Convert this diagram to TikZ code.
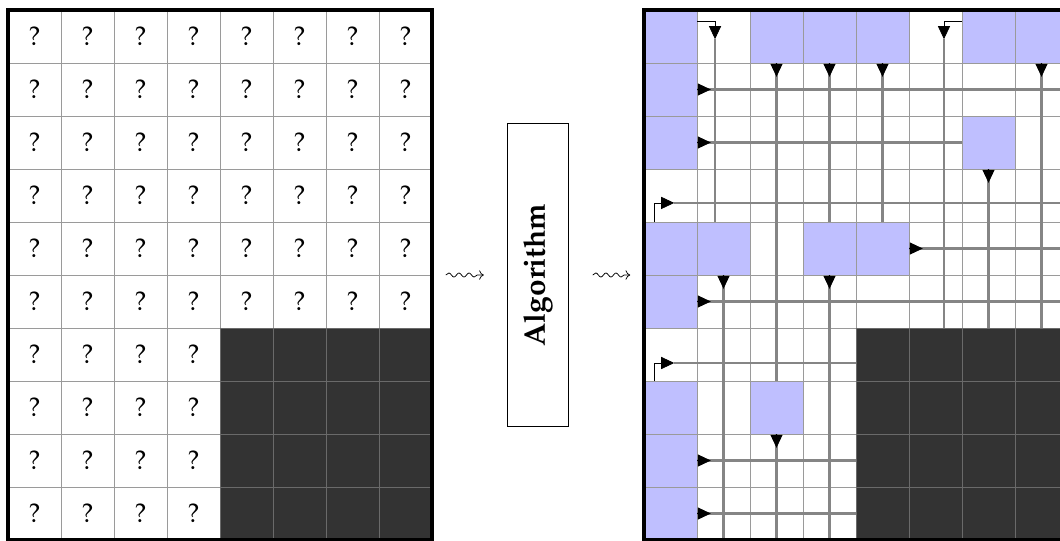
\documentclass[tikz,border=0pt]{standalone}
\usepackage{amsmath,amssymb}
\usepackage[T1]{fontenc}
\usepackage{mathpazo}
\usepackage{graphicx}
\usepackage{xcolor}
\usepackage{tikz}
\usetikzlibrary{arrows.meta,calc,positioning,decorations.pathmorphing}
\definecolor{knownblue}{RGB}{191,191,255}
\definecolor{maskgray}{HTML}{333333}
\definecolor{gridgray}{HTML}{9A9A9A}
\definecolor{maskline}{HTML}{6A6A6A}
\definecolor{flowgray}{HTML}{858585}
\tikzset{
  gridline/.style={gridgray,line width=0.5pt},
  maskgrid/.style={maskline,line width=0.5pt},
  known/.style={fill=knownblue},
  masked/.style={fill=maskgray},
  flow/.style={flowgray,line width=1.2pt},
  flowhead/.style={-{Triangle[length=7pt,width=6.5pt]},black,line width=0.4pt},
  bent/.style={-{Triangle[length=7pt,width=6.5pt]},black,line width=0.4pt},
  frame/.style={draw,line width=2pt,minimum width=8cm,minimum height=10cm,inner sep=0pt,outer sep=0pt},
  squig/.style={-{To[length=2.5pt,width=5pt]},line width=0.4pt,decorate,decoration={snake,amplitude=1.1pt,segment length=5.4pt,post length=3pt}},
  algbox/.style={draw,line width=0.4pt,minimum width=1.15cm,minimum height=5.72cm,inner sep=0pt,font=\bfseries\fontsize{16}{19}\selectfont},
  qmark/.style={font=\Large,inner sep=0pt}
}

\begin{document}
\begin{tikzpicture}
  \useasboundingbox (-0.151,-10) rectangle (19.849,0.189);
  % input grid
  \fill[masked] (4,-10) rectangle (8,-6);
  \draw[gridline] (0,-10) grid (8,0);
  \draw[maskgrid] (4,-10) grid (8,-6);
  \foreach \r in {0,...,9}{
    \pgfmathtruncatemacro\last{\r<6 ? 7 : 3}
    \foreach \c in {0,...,\last}
      \node[qmark] (q-\r-\c) at (\c+0.5,-\r-0.5) {?};
  }
  % output grid
  \begin{scope}[xshift=12cm]
    \fill[masked] (4,-10) rectangle (8,-6);
    \foreach \c/\r in {0/0,2/0,3/0,4/0,6/0,7/0,0/1,0/2,6/2,0/4,1/4,3/4,4/4,0/5,0/7,2/7,0/8,0/9}
      \fill[known] (\c,-\r) rectangle ++(1,-1);
    \draw[gridline] (0,-10) grid (8,0);
    \draw[maskgrid] (4,-10) grid (8,-6);
    \foreach \r/\a/\b in {1/1/8,2/1/6,4/5/8,5/1/8,8/1/4,9/1/4}{
      \draw[flow] (\a,-\r-0.5) -- (\b,-\r-0.5);
      \draw[flowhead] (\a,-\r-0.5) -- ++(0.26,0);
    }
    \foreach \c/\a/\b in {2/1/7,2/8/10,3/1/4,3/5/10,4/1/4,1/5/10,6/3/6,7/1/6}{
      \draw[flow] (\c+0.5,-\a) -- (\c+0.5,-\b);
      \draw[flowhead] (\c+0.5,-\a) -- ++(0,-0.26);
    }
    \draw[flow] (1.34,-0.55) -- (1.34,-4);
    \draw[bent] (1,-0.21) -| (1.34,-0.55);
    \draw[flow] (5.66,-0.55) -- (5.66,-6);
    \draw[bent] (6,-0.21) -| (5.66,-0.55);
    \draw[flow] (0.57,-3.64) -- (8,-3.64);
    \draw[bent] (0.19,-4) |- (0.57,-3.64);
    \draw[flow] (0.57,-6.66) -- (4,-6.66);
    \draw[bent] (0.19,-7) |- (0.57,-6.66);
  \end{scope}
  \node[frame] (lgrid) at (4,-5) {};
  \node[frame] (rgrid) at (16,-5) {};
  \node[algbox] (algo) at (10,-5) {\rotatebox{90}{Algorithm}};
  \draw[squig] ([xshift=0.26cm]lgrid.east) -- ([xshift=-0.44cm]algo.west);
  \draw[squig] ([xshift=0.45cm]algo.east) -- ([xshift=-0.26cm]rgrid.west);
\end{tikzpicture}
\end{document}
